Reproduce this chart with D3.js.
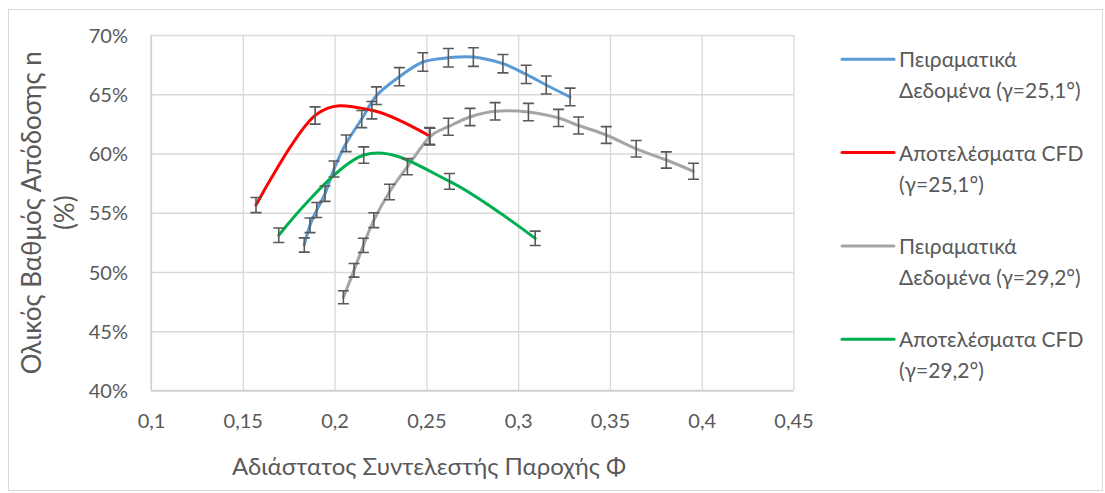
<!DOCTYPE html>
<html>
<head>
<meta charset="utf-8">
<script src="https://cdn.jsdelivr.net/npm/d3@7"></script>
<style>
  html, body { margin: 0; padding: 0; background: #fff; }
  svg { display: block; }
  text { font-family: Lato, "Open Sans", sans-serif; fill: #595959; }
</style>
</head>
<body>
<svg id="chart" width="1105" height="493"></svg>
<script>
// Flow coefficient Φ and overall efficiency η for each series
const phiExp25 = [0.1835, 0.1866, 0.1903, 0.1948, 0.1997, 0.2063, 0.2148, 0.2228, 0.2353, 0.2481, 0.2620, 0.2756, 0.2917, 0.3044, 0.3153, 0.3283];
const etaExp25 = [0.5228, 0.5394, 0.5523, 0.5661, 0.5869, 0.6086, 0.6291, 0.6488, 0.6648, 0.6772, 0.6808, 0.6814, 0.6758, 0.6668, 0.6578, 0.6477];

const phiCfd25 = [0.1572, 0.1894, 0.2203, 0.2517];
const etaCfd25 = [0.5565, 0.6321, 0.6365, 0.6148];

const phiExp29 = [0.2048, 0.2106, 0.2157, 0.2214, 0.2299, 0.2397, 0.2520, 0.2620, 0.2738, 0.2875, 0.3056, 0.3220, 0.3329, 0.3480, 0.3643, 0.3807, 0.3955];
const etaExp29 = [0.4787, 0.5014, 0.5225, 0.5437, 0.5675, 0.5889, 0.6142, 0.6226, 0.6308, 0.6356, 0.6350, 0.6300, 0.6236, 0.6156, 0.6040, 0.5945, 0.5850];

const phiCfd29 = [0.1696, 0.2159, 0.2626, 0.3093];
const etaCfd29 = [0.5310, 0.5987, 0.5765, 0.5284];

// Error bars: relative uncertainty of the efficiency
const errorFraction = 0.0115;

const seriesNames = [
  ["Πειραματικά", "Δεδομένα (γ=25,1°)"],
  ["Αποτελέσματα CFD", "(γ=25,1°)"],
  ["Πειραματικά", "Δεδομένα (γ=29,2°)"],
  ["Αποτελέσματα CFD", "(γ=29,2°)"]
];
const seriesColors = ["#5B9BD5", "#FF0000", "#A5A5A5", "#00B050"];

const xTicks = [0.1, 0.15, 0.2, 0.25, 0.3, 0.35, 0.4, 0.45];
const yTicks = [0.40, 0.45, 0.50, 0.55, 0.60, 0.65, 0.70];

const xTitle = "Αδιάστατος Συντελεστής Παροχής Φ";
const yTitleLines = ["Ολικός Βαθμός Απόδοσης n", "(%)"];

const series = [
  { phi: phiExp25, eta: etaExp25 },
  { phi: phiCfd25, eta: etaCfd25 },
  { phi: phiExp29, eta: etaExp29 },
  { phi: phiCfd29, eta: etaCfd29 }
].map((s, i) => ({
  name: seriesNames[i],
  color: seriesColors[i],
  points: s.phi.map((p, j) => ({ phi: p, eta: s.eta[j] }))
}));

const svg = d3.select("#chart");

// Chart area frame
svg.append("rect")
  .attr("x", 8.5).attr("y", 9.5)
  .attr("width", 1094).attr("height", 481)
  .attr("fill", "#fff").attr("stroke", "#D9D9D9").attr("stroke-width", 1);

const plot = { left: 151, right: 793.5, top: 35, bottom: 390.5 };

const x = d3.scaleLinear().domain([0.1, 0.45]).range([plot.left, plot.right]);
const y = d3.scaleLinear().domain([0.40, 0.70]).range([plot.bottom, plot.top]);

// Gridlines
const grid = svg.append("g").attr("class", "grid");
grid.append("g")
  .attr("transform", `translate(0,${plot.bottom})`)
  .call(d3.axisBottom(x).tickValues(xTicks).tickSize(-(plot.bottom - plot.top)).tickFormat(""))
  .call(g => g.select(".domain").remove())
  .call(g => g.selectAll("line").attr("stroke", "#D9D9D9").attr("stroke-width", 1.3));
grid.append("g")
  .attr("transform", `translate(${plot.left},0)`)
  .call(d3.axisLeft(y).tickValues(yTicks).tickSize(-(plot.right - plot.left)).tickFormat(""))
  .call(g => g.select(".domain").remove())
  .call(g => g.selectAll("line").attr("stroke", "#D9D9D9").attr("stroke-width", 1.3));

// Axis lines
svg.append("line")
  .attr("x1", plot.left).attr("x2", plot.right)
  .attr("y1", plot.bottom).attr("y2", plot.bottom)
  .attr("stroke", "#CFCFCF").attr("stroke-width", 1.3);
svg.append("line")
  .attr("x1", plot.left).attr("x2", plot.left)
  .attr("y1", plot.top).attr("y2", plot.bottom)
  .attr("stroke", "#CFCFCF").attr("stroke-width", 1.3);

// Tick labels
const fmtX = v => String(v).replace(".", ",");
const fmtY = d3.format(".0%");

svg.append("g")
  .attr("transform", `translate(0,${plot.bottom})`)
  .call(d3.axisBottom(x).tickValues(xTicks).tickSize(0).tickPadding(0).tickFormat(fmtX))
  .call(g => g.select(".domain").remove())
  .call(g => g.selectAll("text")
    .attr("y", 37).attr("dy", null)
    .style("font-family", "Lato, 'Open Sans', sans-serif")
    .attr("font-size", 20).attr("fill", "#595959"));

svg.append("g")
  .attr("transform", `translate(${plot.left},0)`)
  .call(d3.axisLeft(y).tickValues(yTicks).tickSize(0).tickPadding(0).tickFormat(fmtY))
  .call(g => g.select(".domain").remove())
  .call(g => g.selectAll("text")
    .attr("x", -23).attr("dy", "0.35em")
    .style("font-family", "Lato, 'Open Sans', sans-serif")
    .attr("font-size", 20).attr("fill", "#595959"));

// Axis titles
svg.append("text")
  .attr("x", 429).attr("y", 475)
  .attr("text-anchor", "middle")
  .attr("font-size", 24)
  .text(xTitle);

const yTitle = svg.append("text")
  .attr("transform", `translate(41,${(plot.top + plot.bottom) / 2}) rotate(-90)`)
  .attr("text-anchor", "middle")
  .attr("font-size", 26);
yTitleLines.forEach((line, i) => {
  yTitle.append("tspan").attr("x", 0).attr("y", i * 33).text(line);
});

// Smoothed series lines
const line = d3.line()
  .x(d => x(d.phi))
  .y(d => y(d.eta))
  .curve(d3.curveCatmullRom.alpha(0));

svg.append("g").selectAll("path")
  .data(series)
  .join("path")
  .attr("d", d => line(d.points))
  .attr("fill", "none")
  .attr("stroke", d => d.color)
  .attr("stroke-width", 3)
  .attr("stroke-linecap", "round")
  .attr("stroke-linejoin", "round");

// Error bars
const capHalf = 5.5;
const bars = svg.append("g")
  .attr("stroke", "#595959")
  .attr("stroke-width", 1.6)
  .attr("fill", "none");
series.forEach(s => {
  s.points.forEach(p => {
    const err = p.eta * errorFraction;
    const cx = x(p.phi), y0 = y(p.eta - err), y1 = y(p.eta + err);
    bars.append("path")
      .attr("d", `M${cx},${y0}V${y1}M${cx - capHalf},${y0}H${cx + capHalf}M${cx - capHalf},${y1}H${cx + capHalf}`);
  });
});

// Legend
const legend = svg.append("g");
series.forEach((s, i) => {
  const base = 67.3 + i * 93.3;
  legend.append("line")
    .attr("x1", 842).attr("x2", 894)
    .attr("y1", base - 8).attr("y2", base - 8)
    .attr("stroke", s.color).attr("stroke-width", 3)
    .attr("stroke-linecap", "round");
  const t = legend.append("text").attr("font-size", 21);
  s.name.forEach((ln, k) => {
    t.append("tspan").attr("x", 899).attr("y", base + k * 31).text(ln);
  });
});
</script>
</body>
</html>
